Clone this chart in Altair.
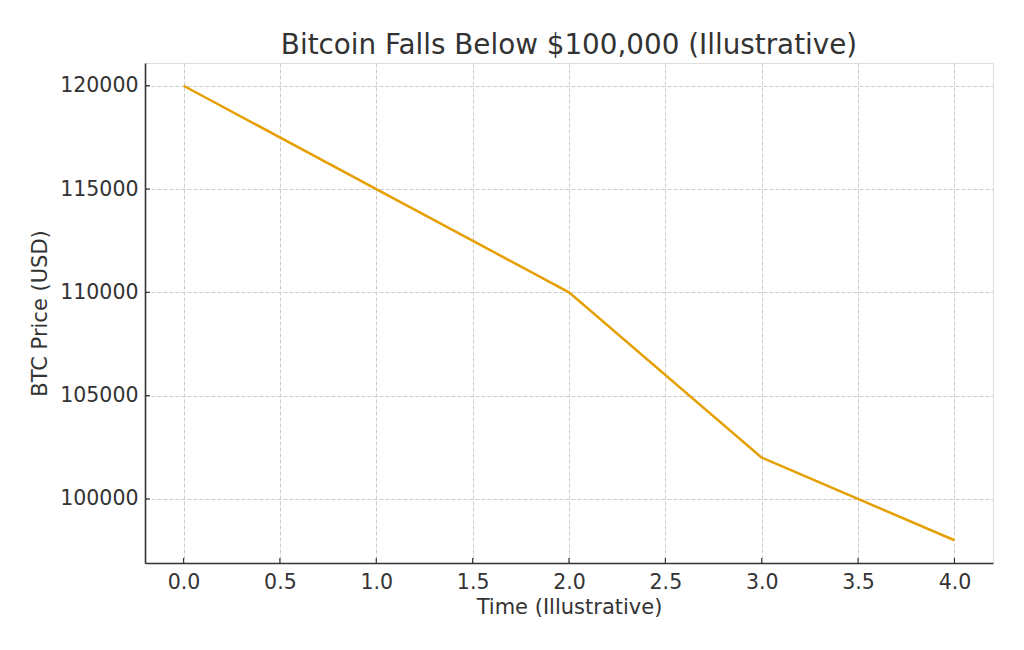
import altair as alt
import pandas as pd

time = [0, 1, 2, 3, 4]
price = [120000, 115000, 110000, 102000, 98000]
x_ticks = [0.0, 0.5, 1.0, 1.5, 2.0, 2.5, 3.0, 3.5, 4.0]
y_ticks = [100000, 105000, 110000, 115000, 120000]

df = pd.DataFrame({"t": time, "p": price})
xt = pd.DataFrame({"t": x_ticks})
yt = pd.DataFrame({"p": y_ticks})

W, H = 848, 500
FONT = "DejaVu Sans"
TXT = "#333333"
LBL = 20.5
TTL = 21

xscale = alt.Scale(domain=[-0.2, 4.2], nice=False, zero=False)
yscale = alt.Scale(domain=[96900, 121100], nice=False, zero=False)

xaxis = alt.Axis(values=x_ticks, format=".1f", title="Time (Illustrative)",
                 grid=True, gridDash=[4, 2], gridColor="#cccccc", gridWidth=1,
                 tickSize=0, labelPadding=9, labelFontSize=LBL, labelFont=FONT,
                 labelColor=TXT, titleFont=FONT, titleFontSize=TTL, titleColor=TXT,
                 titleFontWeight="normal", titlePadding=4, domainColor=TXT, domainWidth=1.6)
yaxis = alt.Axis(values=y_ticks, format="d", title="BTC Price (USD)",
                 grid=True, gridDash=[4, 2], gridColor="#cccccc", gridWidth=1,
                 tickSize=0, labelPadding=7, labelFontSize=LBL, labelFont=FONT,
                 labelColor=TXT, titleFont=FONT, titleFontSize=TTL, titleColor=TXT,
                 titleFontWeight="normal", titlePadding=9, domainColor=TXT, domainWidth=1.6)

line = alt.Chart(df).mark_line(color="#E69F00", strokeWidth=2.5).encode(
    x=alt.X("t:Q", scale=xscale, axis=xaxis),
    y=alt.Y("p:Q", scale=yscale, axis=yaxis),
)

xtick_marks = alt.Chart(xt).mark_rule(color=TXT, strokeWidth=1.2).encode(
    x=alt.X("t:Q", scale=xscale, axis=xaxis),
    y=alt.value(H), y2=alt.value(H - 5),
)
ytick_marks = alt.Chart(yt).mark_rule(color=TXT, strokeWidth=1.2).encode(
    y=alt.Y("p:Q", scale=yscale, axis=yaxis),
    x=alt.value(0), x2=alt.value(5),
)

chart = alt.layer(line, xtick_marks, ytick_marks).properties(
    width=W, height=H,
    title=alt.TitleParams("Bitcoin Falls Below $100,000 (Illustrative)", font=FONT,
                          fontSize=27.8, fontWeight="normal", color=TXT, anchor="middle",
                          offset=3),
    autosize=alt.AutoSizeParams(type="none"),
    padding={"left": 137, "top": 55, "right": 23, "bottom": 79},
).configure_view(stroke="transparent", strokeWidth=0).configure(background="white")

chart.save("out.html", embed_options={"renderer": "svg", "actions": False})
